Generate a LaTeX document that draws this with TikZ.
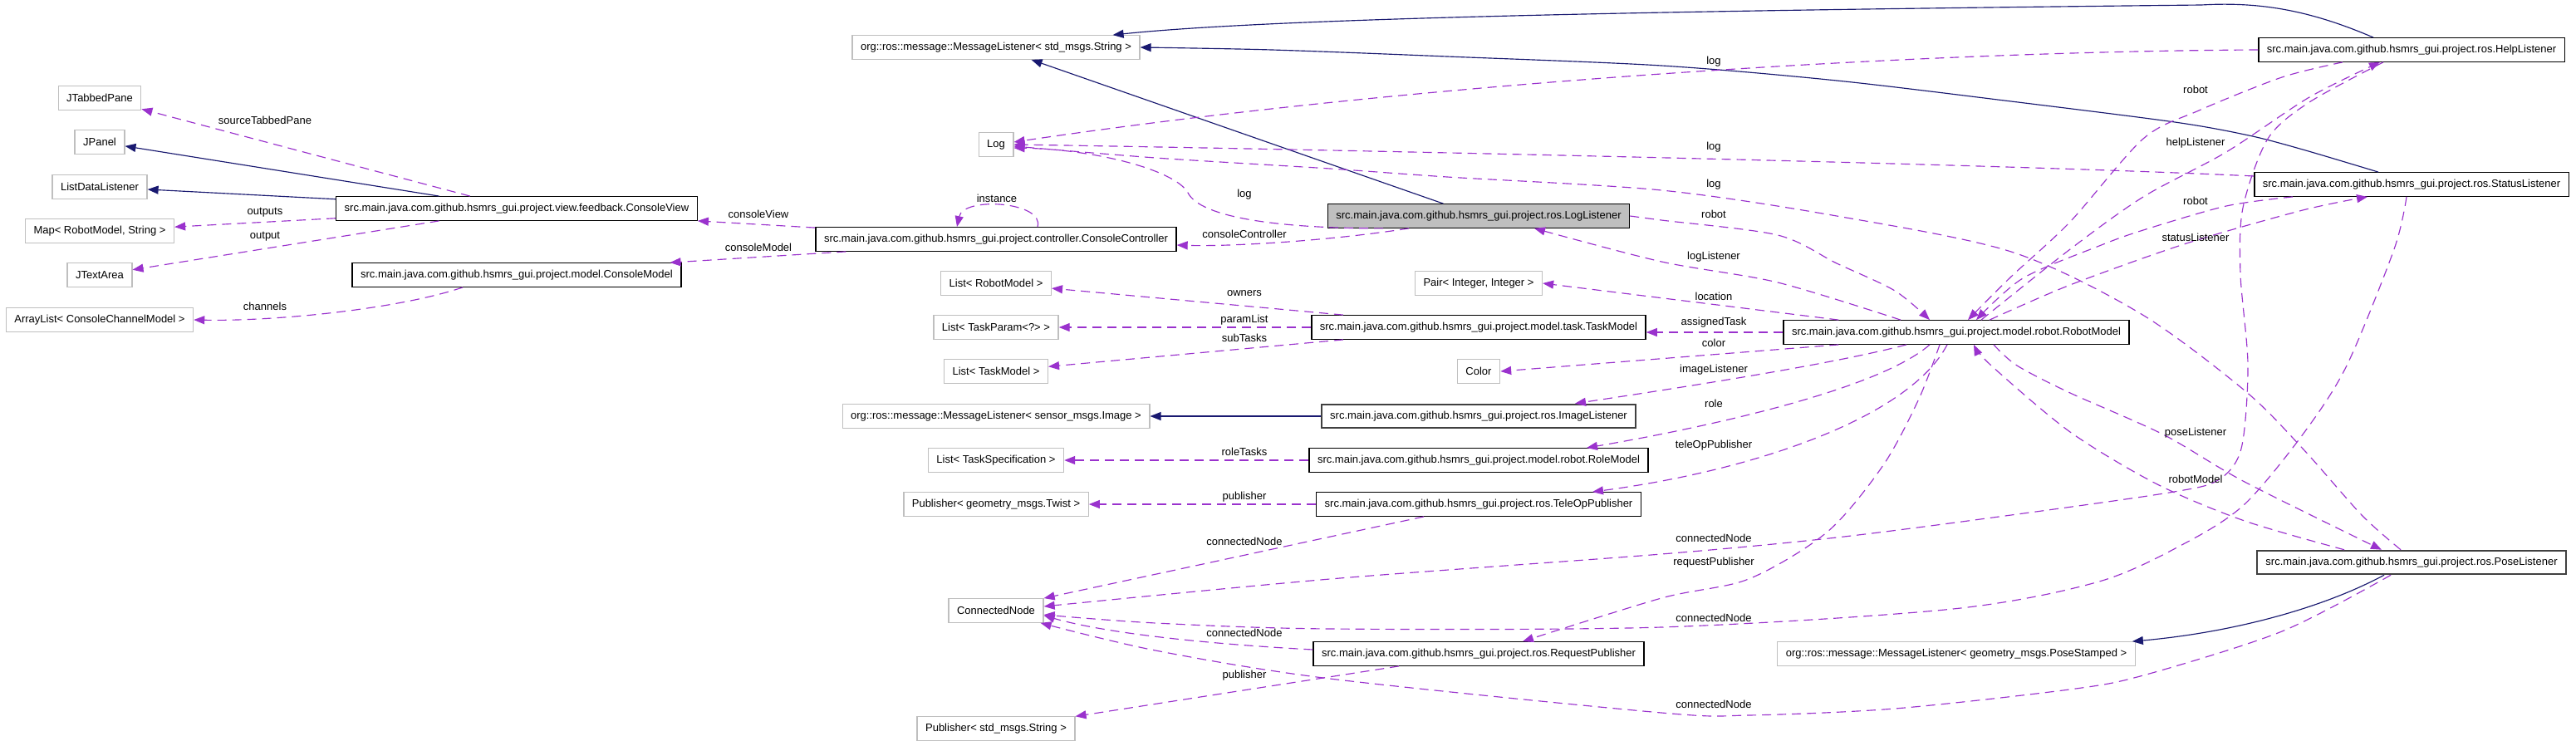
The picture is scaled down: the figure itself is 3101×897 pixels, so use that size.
\documentclass[tikz,border=0pt]{standalone}
\usepackage{fontspec}
\setmainfont{Liberation Sans}
\usetikzlibrary{arrows.meta,calc}
\definecolor{usec}{HTML}{9A32CD}
\definecolor{inhc}{HTML}{191970}
\definecolor{gryb}{HTML}{BFBFBF}
\definecolor{dkb}{HTML}{404040}
\begin{document}
\begin{tikzpicture}[x=1pt,y=-1pt,
  font=\fontsize{13}{15}\selectfont,
  box/.style={draw=black, fill=white, line width=1.3pt, minimum height=28.5pt, inner xsep=10pt, inner ysep=0pt},
  ext/.style={box, draw=gryb},
  sel/.style={box, fill=gryb},
  thk/.style={box, draw=dkb, line width=2pt},
  lbl/.style={inner sep=1pt},
  use/.style={draw=usec, line width=1.15pt, dash pattern=on 11pt off 7pt, -{Triangle[length=13pt,width=10pt]}},
  inh/.style={draw=inhc, line width=1.15pt, -{Triangle[length=13pt,width=10pt]}}]
\fill[white] (0,0) rectangle (3101,897);
\useasboundingbox (0,0) rectangle (3101,897);
% column 1
\node[ext] (jtp) at (120,118) {JTabbedPane};
\node[ext] (jpn) at (120,171) {JPanel};
\node[ext] (ldl) at (120,225) {ListDataListener};
\node[ext] (map) at (120,278) {Map< RobotModel, String >};
\node[ext] (jta) at (120,331) {JTextArea};
\node[ext] (alc) at (120,385) {ArrayList< ConsoleChannelModel >};
% column 2
\node[box] (cv) at (622,251) {src.main.java.com.github.hsmrs\_gui.project.view.feedback.ConsoleView};
\node[box] (cm) at (622,331) {src.main.java.com.github.hsmrs\_gui.project.model.ConsoleModel};
% column 3
\node[ext] (mls) at (1199,57) {org::ros::message::MessageListener< std\_msgs.String >};
\node[ext] (log) at (1199,174) {Log};
\node[box] (cc) at (1199,288) {src.main.java.com.github.hsmrs\_gui.project.controller.ConsoleController};
\node[ext] (lrm) at (1199,341) {List< RobotModel >};
\node[ext] (ltp) at (1199,394) {List< TaskParam<?> >};
\node[ext] (ltm) at (1199,447) {List< TaskModel >};
\node[ext] (mli) at (1199,501) {org::ros::message::MessageListener< sensor\_msgs.Image >};
\node[ext] (lts) at (1199,554) {List< TaskSpecification >};
\node[ext] (pgt) at (1199,607) {Publisher< geometry\_msgs.Twist >};
\node[ext] (cn) at (1199,735) {ConnectedNode};
\node[ext] (pss) at (1199,877) {Publisher< std\_msgs.String >};
% column 4
\node[sel] (ll) at (1780,260) {src.main.java.com.github.hsmrs\_gui.project.ros.LogListener};
\node[ext] (pair) at (1780,341) {Pair< Integer, Integer >};
\node[box] (tm) at (1780,394) {src.main.java.com.github.hsmrs\_gui.project.model.task.TaskModel};
\node[ext] (col) at (1780,447) {Color};
\node[thk] (il) at (1780,501) {src.main.java.com.github.hsmrs\_gui.project.ros.ImageListener};
\node[box] (role) at (1780,554) {src.main.java.com.github.hsmrs\_gui.project.model.robot.RoleModel};
\node[box] (top) at (1780,607) {src.main.java.com.github.hsmrs\_gui.project.ros.TeleOpPublisher};
\node[box] (rp) at (1780,787) {src.main.java.com.github.hsmrs\_gui.project.ros.RequestPublisher};
% column 5
\node[box] (rm) at (2355,400) {src.main.java.com.github.hsmrs\_gui.project.model.robot.RobotModel};
\node[ext] (mlp) at (2355,787) {org::ros::message::MessageListener< geometry\_msgs.PoseStamped >};
% column 6
\node[box] (hl) at (2903,60) {src.main.java.com.github.hsmrs\_gui.project.ros.HelpListener};
\node[box] (sl) at (2903,222) {src.main.java.com.github.hsmrs\_gui.project.ros.StatusListener};
\node[thk] (pl) at (2903,677) {src.main.java.com.github.hsmrs\_gui.project.ros.PoseListener};

% ConsoleView edges
\draw[use] (cv) -- (jtp);
\draw[inh] (cv) -- (jpn);
\draw[inh] (cv) -- (ldl);
\draw[use] (cv) -- (map);
\draw[use] (cv) -- (jta);
\draw[use] ($(cm.south)+(-65,0)$) .. controls (480,372) and (330,387) .. (alc.east);
% ConsoleController edges
\draw[use] ($(cc.north west)+(0,1)$) -- (cv.south east);
\draw[use] ($(cc.south west)+(37,0)$) -- ($(cm.north east)+(-14,0)$);
\draw[use] ($(cc.north)+(50,0)$) .. controls (1258,243) and (1160,236) .. ($(cc.north)+(-47,0)$);
% LogListener edges
\draw[use] ($(ll.south)+(-84,0)$) .. controls (1600,290) and (1480,297) .. ($(cc.east)+(0,7)$);
\draw[use] ($(ll.south)+(-115,0)$) .. controls (1540,275) and (1445,262) .. (1430,232) .. controls (1415,205) and (1320,180) .. ($(log.east)+(0,4)$);
\draw[inh] (ll) -- (mls);
% Help / Status inheritance
\draw[inh] ($(hl.north)+(-46,0)$) .. controls (2780,12) and (2720,2) .. (2650,6) .. controls (2100,12) and (1550,20) .. ($(mls.north east)+(-33,0)$);
\draw[inh] plot[smooth] coordinates {($(sl.north)+(-40,0)$) (2772,180) (2707,163) (2618,147) (2421,122) (2211,97) (2000,79) (1742,68) (1531,60) (mls.east)};
% log edges
\draw[use] (hl.west) .. controls (2300,62) and (1700,100) .. ($(log.east)+(0,-3)$);
\draw[use] ($(sl.west)+(0,-10)$) .. controls (2400,197) and (1600,180) .. (log.east);
\draw[use] plot[smooth] coordinates {($(pl.north)+(-13,0)$) (2843,620) (2772,540) (2702,470) (2576,377) (2421,303) (2211,260) (2000,229) (1742,213) (1601,203) (1391,190) ($(log.east)+(0,2)$)};
% RobotModel / LogListener
\draw[use] plot[smooth] coordinates {(ll.east) (2000,265) (2140,283) (2211,317) (2281,350) ($(rm.north)+(-32,0)$)};
\draw[use] plot[smooth] coordinates {($(rm.north)+(-67,0)$) (2140,340) (2000,315) ($(ll.south)+(67,0)$)};
% RobotModel members
\draw[use] ($(rm.north west)+(67,0)$) -- (pair.east);
\draw[use] (rm.west) -- (rm.west -| tm.east);
\draw[use] (tm) -- (lrm);
\draw[use] (tm) -- (ltp);
\draw[use] (tm) -- (ltm);
\draw[use] ($(rm.south west)+(67,0)$) -- (col.east);
\draw[use] ($(rm.south)+(-60,0)$) .. controls (2200,440) and (2000,470) .. ($(il.north)+(116,0)$);
\draw[inh] (il) -- (mli);
\draw[use] ($(rm.south)+(-32,0)$) .. controls (2260,470) and (2050,515) .. ($(role.north)+(130,0)$);
\draw[use] (role) -- (lts);
\draw[use] ($(rm.south)+(-11,0)$) .. controls (2300,500) and (2120,565) .. ($(top.north)+(137,0)$);
\draw[use] (top) -- (pgt);
\draw[use] ($(top.south)+(-66,0)$) -- (cn.north east);
\draw[use] plot[smooth] coordinates {($(rm.south)+(-20,0)$) (2310,480) (2267,560) (2200,640) (2105,697) (2000,720) ($(rp.north)+(53,0)$)};
\draw[use] ($(rp.west)+(0,-5)$) .. controls (1450,775) and (1330,762) .. ($(cn.south east)+(0,-9)$);
\draw[use] (rp) -- (pss);
% connectedNode from listeners
\draw[use] plot[smooth] coordinates {($(hl.south)+(-34,0)$) (2780,123) (2730,167) (2700,250) (2697,330) (2706,440) (2698,540) (2670,578) (2611,593) (2421,620) (2211,647) (2000,667) (1601,697) ($(cn.east)+(0,-5)$)};
\draw[use] plot[smooth] coordinates {($(sl.south)+(-6,0)$) (2882,300) (2825,440) (2772,523) (2702,607) (2632,653) (2527,700) (2351,733) (2000,755) (1601,757) (1391,750) ($(cn.east)+(0,5)$)};
\draw[use] plot[smooth] coordinates {($(pl.south)+(-25,0)$) (2747,760) (2580,813) (2491,830) (2281,853) (2105,861) (2000,858) (1601,817) (1391,783) ($(cn.south east)+(-4,0)$)};
% robot / listener pairs
\draw[use] plot[smooth] coordinates {($(hl.south)+(-83,0)$) (2747,93) (2647,133) (2580,167) (2492,267) (2421,333) ($(rm.north)+(14,0)$)};
\draw[use] plot[smooth] coordinates {($(rm.north)+(30,0)$) (2492,300) (2580,237) (2680,183) (2780,117) ($(hl.south)+(-38,0)$)};
\draw[use] plot[smooth] coordinates {($(sl.south)+(-143,0)$) (2680,248) (2580,277) (2527,296) (2435,335) ($(rm.north)+(24,0)$)};
\draw[use] plot[smooth] coordinates {($(rm.north)+(40,0)$) (2492,343) (2632,293) (2772,253) ($(sl.south)+(-53,0)$)};
\draw[use] plot[smooth] coordinates {($(rm.south)+(45,0)$) (2428,440) (2492,473) (2604,523) (2702,580) ($(pl.north)+(-36,0)$)};
\draw[use] plot[smooth] coordinates {($(pl.north)+(-81,0)$) (2702,627) (2597,583) (2492,520) (2397,440) ($(rm.south)+(21,0)$)};
\draw[inh] ($(pl.south)+(-33,0)$) .. controls (2790,735) and (2680,762) .. ($(mlp.north east)+(-4,0)$);

% labels
\node[lbl] (l1) at (319,145) {sourceTabbedPane};
\node[lbl] (l2) at (319,256) {outputs};
\node[lbl] (l3) at (319,285) {output};
\node[lbl] (l4) at (319,369) {channels};
\node[lbl] (l5) at (913,258) {consoleView};
\node[lbl] (l6) at (913,298) {consoleModel};
\node[lbl] (l7) at (1200,239) {instance};
\node[lbl] (l8) at (1498,234) {log};
\node[lbl] (l9) at (1498,282) {consoleController};
\node[lbl] (l10) at (1498,353) {owners};
\node[lbl] (l11) at (1498,385) {paramList};
\node[lbl] (l12) at (1498,407) {subTasks};
\node[lbl] (l13) at (1498,544) {roleTasks};
\node[lbl] (l14) at (1498,598) {publisher};
\node[lbl] (l15) at (1498,652) {connectedNode};
\node[lbl] (l16) at (1498,762) {connectedNode};
\node[lbl] (l17) at (1498,813) {publisher};
\node[lbl] (l18) at (2063,74) {log};
\node[lbl] (l19) at (2063,177) {log};
\node[lbl] (l20) at (2063,222) {log};
\node[lbl] (l21) at (2063,258) {robot};
\node[lbl] (l22) at (2063,309) {logListener};
\node[lbl] (l23) at (2063,357) {location};
\node[lbl] (l24) at (2063,388) {assignedTask};
\node[lbl] (l25) at (2063,413) {color};
\node[lbl] (l26) at (2063,445) {imageListener};
\node[lbl] (l27) at (2063,486) {role};
\node[lbl] (l28) at (2063,536) {teleOpPublisher};
\node[lbl] (l29) at (2063,648) {connectedNode};
\node[lbl] (l30) at (2063,677) {requestPublisher};
\node[lbl] (l31) at (2063,744) {connectedNode};
\node[lbl] (l32) at (2063,848) {connectedNode};
\node[lbl] (l33) at (2643,108) {robot};
\node[lbl] (l34) at (2643,172) {helpListener};
\node[lbl] (l35) at (2643,242) {robot};
\node[lbl] (l36) at (2643,286) {statusListener};
\node[lbl] (l37) at (2643,521) {poseListener};
\node[lbl] (l38) at (2643,577) {robotModel};
\end{tikzpicture}
\end{document}
